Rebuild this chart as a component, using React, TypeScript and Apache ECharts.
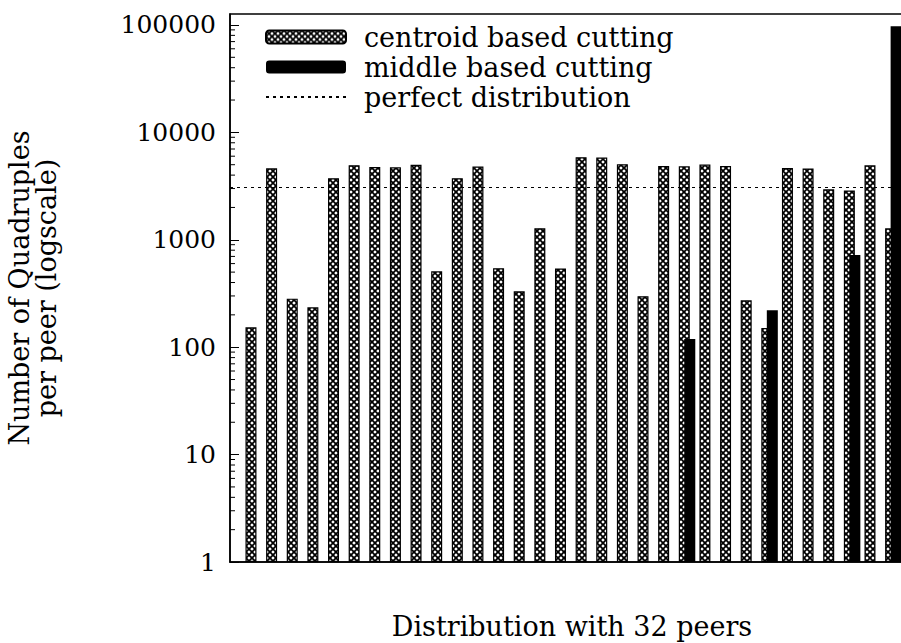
import React, { useEffect, useRef } from "react";
import * as echarts from "echarts";

// peer index (x positions of the clustered bars)
const peers = [0, 1, 2, 3, 4, 5, 6, 7, 8, 9, 10, 11, 12, 13, 14, 15, 16, 17, 18, 19, 20, 21, 22, 23, 24, 25, 26, 27, 28, 29, 30, 31];

// number of quadruples per peer, centroid based cutting
const centroidValues = [153, 4630, 283, 235, 3740, 4940, 4760, 4730, 5000, 509, 3740, 4800, 543, 331, 1280, 541, 5870, 5820, 5050, 298, 4870, 4830, 5010, 4860, 273, 151, 4650, 4610, 2950, 2880, 4930, 1277];

// number of quadruples per peer, middle based cutting ("-" = no bar)
const middleValues: (number | string)[] = ["-", "-", "-", "-", "-", "-", "-", "-", "-", "-", "-", "-", "-", "-", "-", "-", "-", "-", "-", "-", "-", 119, "-", "-", "-", 221, "-", "-", "-", 723, "-", 97500];

// perfect distribution (total / 32)
const perfectDistribution = 3080;

// minor ticks of the log axis
const minorTickValues = [2, 3, 4, 5, 6, 7, 8, 9, 20, 30, 40, 50, 60, 70, 80, 90, 200, 300, 400, 500, 600, 700, 800, 900, 2000, 3000, 4000, 5000, 6000, 7000, 8000, 9000, 20000, 30000, 40000, 50000, 60000, 70000, 80000, 90000];

const seriesNames = ["centroid based cutting", "middle based cutting", "perfect distribution"];
const xTitle = "Distribution with 32 peers";
const yTitle = "Number of Quadruples\nper peer (logscale)";

const FONT = "DejaVu Serif";
const X_MIN = -1.15;
const X_MAX = 32;

const hatchTile =
  "data:image/svg+xml;utf8," +
  encodeURIComponent(
    '<svg xmlns="http://www.w3.org/2000/svg" width="6" height="6"><rect width="6" height="6" fill="white"/><path d="M-1,-1L7,7M7,-1L-1,7" stroke="black" stroke-width="1.75" fill="none"/></svg>'
  );

export default function App() {
  const ref = useRef<HTMLDivElement>(null);
  useEffect(() => {
    if (!ref.current) return;
    const chart = echarts.init(ref.current, null, { renderer: "svg" });
    const hatch = { image: hatchTile, imageWidth: 6, imageHeight: 6, repeat: "repeat" };
    const option: any = {
      animation: false,
      backgroundColor: "#ffffff",
      textStyle: { fontFamily: FONT, color: "#000" },
      grid: {
        left: 230,
        top: 14,
        bottom: 81,
        width: 684,
        containLabel: false,
        outerBoundsMode: "none",
        show: true,
        borderColor: "#000",
        borderWidth: 1.5,
        backgroundColor: "transparent",
      },
      legend: {
        orient: "vertical",
        left: 265,
        top: 22,
        itemWidth: 80,
        itemHeight: 13,
        itemGap: 0,
        padding: 0,
        data: [
          { name: seriesNames[0] },
          { name: seriesNames[1] },
          { name: seriesNames[2], itemStyle: { opacity: 0 } },
        ],
        textStyle: {
          fontSize: 27,
          fontFamily: FONT,
          color: "#000",
          lineHeight: 30,
          padding: [0, 0, 0, 13],
        },
      },
      xAxis: {
        type: "value",
        min: X_MIN,
        max: X_MAX,
        axisLine: { show: true, onZero: false, lineStyle: { color: "#000", width: 1.5 } },
        axisTick: { show: false },
        axisLabel: { show: false },
        splitLine: { show: false },
        name: xTitle,
        nameLocation: "middle",
        nameGap: 51,
        nameTextStyle: { fontSize: 27, fontFamily: FONT, color: "#000" },
      },
      yAxis: {
        type: "log",
        logBase: 10,
        min: 1,
        max: 126500,
        axisLine: { show: true, onZero: false, lineStyle: { color: "#000", width: 1.5 } },
        axisTick: { show: true, inside: true, length: 9, lineStyle: { color: "#000", width: 1 } },
        axisLabel: {
          fontSize: 25,
          fontFamily: FONT,
          color: "#000",
          margin: 14,
          showMaxLabel: false,
          formatter: (v: number) => String(Math.round(v)),
        },
        splitLine: { show: false },
        name: yTitle,
        nameLocation: "middle",
        nameRotate: 90,
        nameGap: 170,
        nameTextStyle: { fontSize: 27, fontFamily: FONT, color: "#000", lineHeight: 27 },
      },
      series: [
        {
          type: "bar",
          name: seriesNames[0],
          data: centroidValues.map((v, i) => [peers[i], v]),
          barWidth: 11,
          barGap: "-50%",
          itemStyle: {
            color: hatch,
            borderColor: "#000",
            borderWidth: 1.2,
          },
        },
        {
          type: "bar",
          name: seriesNames[1],
          data: middleValues.map((v, i) => [peers[i], v]),
          barWidth: 11,
          itemStyle: { color: "#000" },
        },
        {
          type: "line",
          name: seriesNames[2],
          data: [],
          symbol: "none",
          itemStyle: { color: "#000" },
          lineStyle: { type: [3, 4], color: "#000", width: 1 },
          markLine: {
            silent: true,
            symbol: "none",
            label: { show: false },
            lineStyle: { type: [3, 4], color: "#000", width: 1 },
            data: [{ yAxis: perfectDistribution }],
          },
        },
        {
          type: "custom",
          name: "minor ticks",
          silent: true,
          clip: false,
          z: 5,
          data: minorTickValues.map((v) => [X_MIN, v]),
          encode: { x: 0, y: 1 },
          renderItem: (params: any, api: any) => {
            const p = api.coord([X_MIN, api.value(1)]);
            return {
              type: "line",
              shape: { x1: p[0], y1: p[1], x2: p[0] + 5, y2: p[1] },
              style: { stroke: "#000", lineWidth: 1 },
            };
          },
        },
      ],
    };
    chart.setOption(option);
    return () => chart.dispose();
  }, []);
  return (
    <div
      ref={ref}
      style={{ position: "absolute", left: 0, top: 0, width: 901, height: 643 }}
    />
  );
}
